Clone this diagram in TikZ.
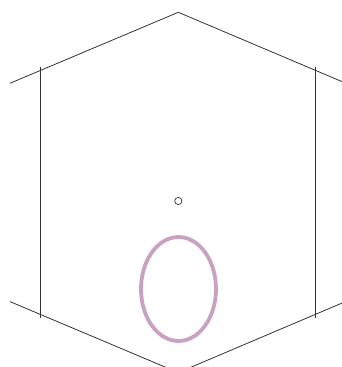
\documentclass[tikz,border=0pt]{standalone}
\usepackage{xcolor}
\usetikzlibrary{calc}
\definecolor{edgegray}{HTML}{333333}
\definecolor{ringmauve}{HTML}{C8A2C0}
\tikzset{
  hexedge/.style={draw=edgegray,line width=0.8pt},
  centerdot/.style={draw=edgegray,line width=0.7pt},
  ring/.style={draw=ringmauve,line width=3.8pt}
}

\begin{document}
\begin{tikzpicture}[x=1pt,y=-1pt]
\useasboundingbox (0,0) rectangle (342,367);
\clip (0,0) rectangle (342,367);
% hexagon corners
\coordinate (top) at (178.3,12.3);
\coordinate (ul) at (40.3,70.5);
\coordinate (ll) at (40.3,314.4);
\coordinate (bot) at (178.3,372.6);
\coordinate (lr) at (315.3,314.4);
\coordinate (ur) at (315.3,70.3);
\draw[hexedge,shorten >=-33pt] (top) -- (ul);
\draw[hexedge,shorten >=-40pt] (top) -- (ur);
\draw[hexedge,shorten <=-3.8pt,shorten >=-3.8pt] (ul) -- (ll);
\draw[hexedge,shorten <=-3.8pt,shorten >=-3.8pt] (ur) -- (lr);
\draw[hexedge,shorten <=-33pt] (ll) -- (bot);
\draw[hexedge,shorten >=-40pt] (bot) -- (lr);
% centre mark and ring
\draw[centerdot] (178.3,201) circle (3.6);
\draw[ring] (178.5,289) ellipse (37.5 and 52);
\end{tikzpicture}
\end{document}
